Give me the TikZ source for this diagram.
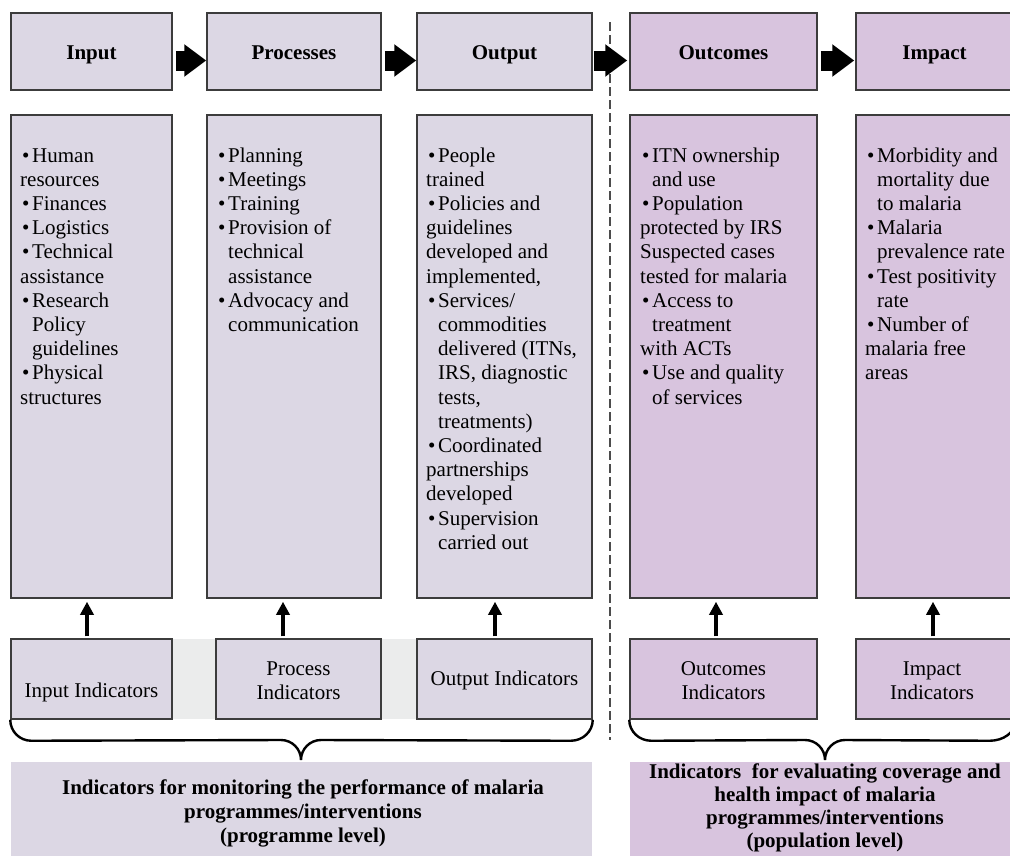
\documentclass[tikz,border=0pt]{standalone}
\usepackage{fontspec}
\setmainfont{Liberation Serif}
\usetikzlibrary{arrows.meta,calc}
\definecolor{lav}{HTML}{DCD7E4}
\definecolor{pur}{HTML}{D8C4DE}
\definecolor{bandgray}{HTML}{EBECEC}
\definecolor{bord}{HTML}{3C3C3C}
\newcommand{\bl}{\hspace*{2pt}\makebox[10pt][l]{\textbullet}}
\newcommand{\ind}{\hspace*{12pt}}
\newcommand{\bfnt}{\fontsize{21}{24.2}\selectfont}
\newcommand{\listtext}[2]{\begin{minipage}[t]{#1}\raggedright\bfnt #2\end{minipage}}
\begin{document}
\begin{tikzpicture}[x=1pt,y=-1pt,
  lbox/.style={draw=bord,line width=1.5pt,fill=lav,inner sep=0pt,font=\bfnt},
  pbox/.style={lbox,fill=pur},
  topbox/.style={minimum height=77pt,font=\bfnt\bfseries,text height=17pt,text depth=2pt},
  bodybox/.style={minimum height=483pt},
  indbox/.style={minimum height=80pt},
  listnode/.style={anchor=base west,inner sep=0pt},
  indtext/.style={inner sep=0pt,align=center,font=\bfnt},
  blockarrow/.style={line width=20pt,-{Triangle[width=31pt,length=22pt]}},
  uparrow/.style={line width=4.5pt,-{Triangle[width=13pt,length=13pt]}},
  dashline/.style={draw=black!70,line width=1.8pt,dash pattern=on 9pt off 4pt},
  bracestyle/.style={draw=black,line width=2.4pt},
  bottext/.style={anchor=base,inner sep=0pt}
]
\useasboundingbox (0,0) rectangle (1010,855);

% gray band behind left indicator boxes
\fill[bandgray] (11,639) rectangle (417,719);

% dashed separator
\coordinate (dtop) at (610,22);
\coordinate (dbot) at (610,740);
\draw[dashline] (dtop) -- (dbot);

% top boxes
\node[lbox,topbox,minimum width=161pt] (tI) at (91.5,51.5) {Input};
\node[lbox,topbox,minimum width=174pt] (tP) at (294,51.5) {Processes};
\node[lbox,topbox,minimum width=175pt] (tO) at (504.5,51.5) {Output};
\node[pbox,topbox,minimum width=187pt] (tC) at (723.5,51.5) {Outcomes};
\node[pbox,topbox,minimum width=157pt] (tM) at (934.5,51.5) {Impact};

% body boxes
\node[lbox,bodybox,minimum width=161pt] (bI) at (91.5,356.5) {};
\node[lbox,bodybox,minimum width=174pt] (bP) at (294,356.5) {};
\node[lbox,bodybox,minimum width=175pt] (bO) at (504.5,356.5) {};
\node[pbox,bodybox,minimum width=187pt] (bC) at (723.5,356.5) {};
\node[pbox,bodybox,minimum width=157pt] (bM) at (934.5,356.5) {};

% body texts
\node[listnode] (xI) at (20,162) {\listtext{150pt}{%
\bl Human\\
resources\\
\bl Finances\\
\bl Logistics\\
\bl Technical\\
assistance\\
\bl Research\\
\ind Policy\\
\ind guidelines\\
\bl Physical\\
structures}};
\node[listnode] (xP) at (216,162) {\listtext{165pt}{%
\bl Planning\\
\bl Meetings\\
\bl Training\\
\bl Provision of\\
\ind technical\\
\ind assistance\\
\bl Advocacy and\\
\ind communication}};
\node[listnode] (xO) at (426,162) {\listtext{170pt}{%
\bl People\\
trained\\
\bl Policies and\\
guidelines\\
developed and\\
implemented,\\
\bl Services/\\
\ind commodities\\
\ind delivered (ITNs,\\
\ind IRS, diagnostic\\
\ind tests,\\
\ind treatments)\\
\bl Coordinated\\
partnerships\\
developed\\
\bl Supervision\\
\ind carried out}};
\node[listnode] (xC) at (640,162) {\listtext{180pt}{%
\bl ITN ownership\\
\ind and use\\
\bl Population\\
protected by IRS\\
Suspected cases\\
tested for malaria\\
\bl Access to\\
\ind treatment\\
with ACTs\\
\bl Use and quality\\
\ind of services}};
\node[listnode] (xM) at (865,162) {\listtext{150pt}{%
\bl Morbidity and\\
\ind mortality due\\
\ind to malaria\\
\bl Malaria\\
\ind prevalence rate\\
\bl Test positivity\\
\ind rate\\
\bl Number of\\
malaria free\\
areas}};

% indicator boxes
\node[lbox,indbox,minimum width=161pt] (iI) at (91.5,679) {};
\node[lbox,indbox,minimum width=165pt] (iP) at (298.5,679) {};
\node[lbox,indbox,minimum width=175pt] (iO) at (504.5,679) {};
\node[pbox,indbox,minimum width=187pt] (iC) at (723.5,679) {};
\node[pbox,indbox,minimum width=157pt] (iM) at (934.5,679) {};

\node[indtext] (tiI) at (91.5,692) {Input Indicators};
\node[indtext] (tiP) at (298.5,681) {Process\\Indicators};
\node[indtext] (tiO) at (504.5,680) {Output Indicators};
\node[indtext] (tiC) at (723.5,681) {Outcomes\\Indicators};
\node[indtext] (tiM) at (932,681) {Impact\\Indicators};

% block arrows between top boxes
\draw[blockarrow] ([xshift=3pt,yshift=-9pt]tI.east) -- ([yshift=-9pt]tP.west);
\draw[blockarrow] ([xshift=3pt,yshift=-9pt]tP.east) -- ([yshift=-9pt]tO.west);
\draw[blockarrow] ([xshift=1pt,yshift=-9pt]tO.east) -- ([xshift=-2pt,yshift=-9pt]tC.west);
\draw[blockarrow] ([xshift=3pt,yshift=-9pt]tC.east) -- ([xshift=-1pt,yshift=-9pt]tM.west);

% up arrows
\draw[uparrow] ([xshift=-4.5pt,yshift=2pt]iI.north) -- ([xshift=-4.5pt,yshift=-3pt]bI.south);
\draw[uparrow] ([xshift=-15.5pt,yshift=2pt]iP.north) -- ([xshift=-11pt,yshift=-3pt]bP.south);
\draw[uparrow] ([xshift=-9.5pt,yshift=2pt]iO.north) -- ([xshift=-9.5pt,yshift=-3pt]bO.south);
\draw[uparrow] ([xshift=-7.5pt,yshift=2pt]iC.north) -- ([xshift=-7.5pt,yshift=-3pt]bC.south);
\draw[uparrow] ([xshift=-1.5pt,yshift=2pt]iM.north) -- ([xshift=-1.5pt,yshift=-3pt]bM.south);

% braces
\coordinate (lbtip) at (301,760);
\coordinate (rbtip) at (825,760);
\draw[bracestyle] (iI.south west) to[out=-90,in=180] ([xshift=21pt,yshift=-21pt]iI.south west)
  -- (281,740) to[out=0,in=90] (lbtip) to[out=90,in=180] (321,740)
  -- ([xshift=-22pt,yshift=-21pt]iO.south east) to[out=0,in=-90] (iO.south east);
\draw[bracestyle] (iC.south west) to[out=-90,in=180] ([xshift=22pt,yshift=-21pt]iC.south west)
  -- (805,740) to[out=0,in=90] (rbtip) to[out=90,in=180] (845,740)
  -- ([xshift=-24pt,yshift=-21pt]iM.south east) to[out=0,in=-90] ([xshift=2pt]iM.south east);

% bottom boxes
\node[fill=lav,inner sep=0pt,minimum width=581pt,minimum height=96pt] (botL) at (301.5,810) {};
\node[fill=pur,inner sep=0pt,minimum width=383pt,minimum height=96pt] (botR) at (821.5,810) {};
\node[bottext] (botLt) at (303,794) {\begin{minipage}[t]{575pt}\centering\bfnt\bfseries
Indicators for monitoring the performance of malaria\\
programmes/interventions\\
(programme level)\end{minipage}};
\node[bottext] (botRt) at (825,778) {\begin{minipage}[t]{378pt}\centering\fontsize{21}{23}\selectfont\bfseries
Indicators\ \ for evaluating coverage and\\
health impact of malaria\\
programmes/interventions\\
(population level)\end{minipage}};
\end{tikzpicture}
\end{document}
